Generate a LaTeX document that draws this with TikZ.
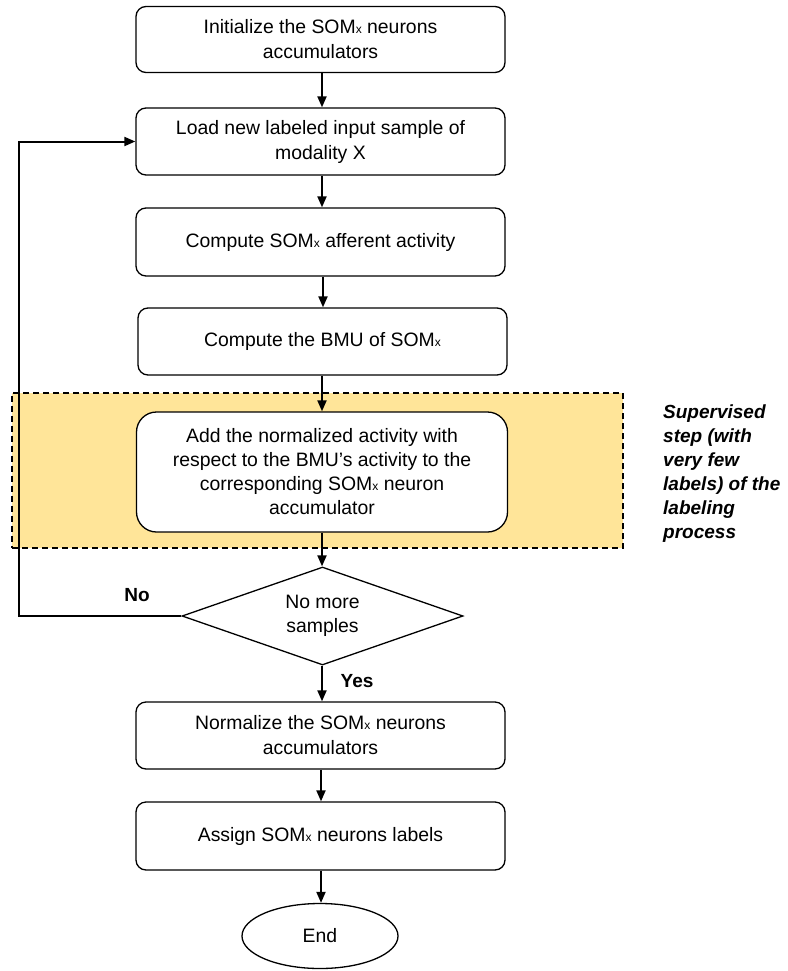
\documentclass[tikz,border=0pt]{standalone}
\usepackage{fontspec}
\setmainfont{Liberation Sans}
\usetikzlibrary{arrows.meta,shapes.geometric}
\definecolor{regionyellow}{RGB}{255,229,153}
\newcommand\somx{SOM{\fontsize{12}{12}\selectfont x}}
\begin{document}
\begin{tikzpicture}[x=1pt,y=-1pt,
  box/.style={draw, fill=white, line width=1.3pt, rounded corners=10pt, minimum width=369pt,
    minimum height=66pt, align=center, inner sep=0pt,
    font=\fontsize{19.4}{25}\selectfont},
  arr/.style={line width=2pt, -{Triangle[length=11pt,width=9pt]}},
  lbl/.style={font=\fontsize{19}{24}\selectfont\bfseries}]
\useasboundingbox (0,0) rectangle (787,971);
\node[draw, dash pattern=on 6pt off 4pt, line width=1.2pt, fill=regionyellow, minimum width=611pt,
  minimum height=155pt, inner sep=0pt] (region) at (317.5,470.5) {};
\node[box] (init) at (320.5,39.5) {Initialize the \somx{} neurons\\accumulators};
\node[box, minimum height=67pt] (load) at (320.5,141.5) {Load new labeled input sample of\\modality X};
\node[box, minimum height=68pt] (aff) at (320.5,242) {Compute \somx{} afferent activity};
\node[box, minimum height=67pt] (bmu) at (322.5,341.5) {Compute the BMU of \somx};
\node[box, rounded corners=20pt, minimum width=371pt, minimum height=120pt,
  font=\fontsize{19.4}{24}\selectfont] (add) at (322,472)
  {Add the normalized activity with\\respect to the BMU’s activity to the\\corresponding \somx{} neuron\\accumulator};
\node[draw, fill=white, diamond, aspect=2.87, line width=1.3pt, minimum width=281pt, minimum height=98pt,
  inner sep=0pt, align=center, font=\fontsize{19.4}{24}\selectfont] (dec) at (322.5,616) {No more\\samples};
\node[box, minimum height=67pt] (norm) at (320.5,735.5) {Normalize the \somx{} neurons\\accumulators};
\node[box, minimum height=68pt] (assign) at (320.5,836) {Assign \somx{} neurons labels};
\node[draw, fill=white, ellipse, line width=1.3pt, minimum width=156pt, minimum height=65pt,
  inner sep=0pt, font=\fontsize{19.4}{24}\selectfont] (end) at (320,936) {End};
\node[anchor=north west, align=left, inner sep=0pt,
  font=\fontsize{19}{24}\selectfont\bfseries\itshape] (note) at (663,405)
  {Supervised\\step (with\\very few\\labels) of the\\labeling\\process};
\draw[arr] (init.south -| 322,0) -- (load.north -| 322,0);
\draw[arr] (load.south -| 322,0) -- (aff.north -| 322,0);
\draw[arr] (aff.south -| 323,0) -- (bmu.north -| 323,0);
\draw[arr] (bmu.south -| 322,0) -- (add.north -| 322,0);
\draw[arr] (add.south -| 322,0) -- (dec.north -| 322,0);
\draw[arr] (dec.south -| 322,0) -- (norm.north -| 322,0);
\draw[arr] (norm.south -| 321,0) -- (assign.north -| 321,0);
\draw[arr] (assign.south -| 321,0) -- (end.north -| 321,0);
\draw[arr] (dec.west) -- ++(-162,0) |- (load.west);
\node[lbl] (no) at (137,595) {No};
\node[lbl] (yes) at (357,681) {Yes};
\end{tikzpicture}
\end{document}
